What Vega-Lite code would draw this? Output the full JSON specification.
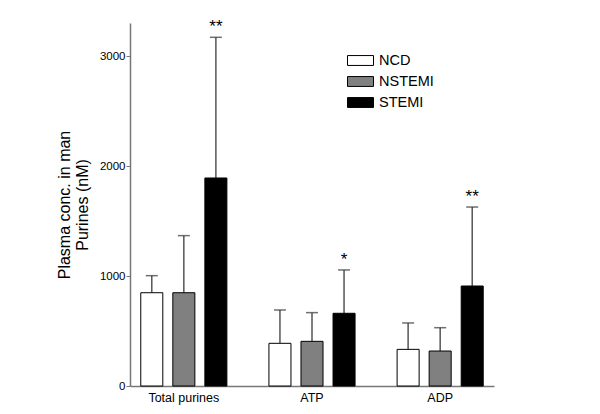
{
  "$schema": "https://vega.github.io/schema/vega-lite/v6.json",
  "autosize": {"type": "none"},
  "padding": {"left": 130, "top": 23, "right": 106, "bottom": 28},
  "width": 364,
  "height": 363,
  "background": "white",
  "config": {"view": {"stroke": null}, "font": "Liberation Sans"},
  "data": {"values": [
    {"group": "Total purines", "cond": "NCD", "mean": 848, "err": 1003, "sig": ""},
    {"group": "Total purines", "cond": "NSTEMI", "mean": 848, "err": 1367, "sig": ""},
    {"group": "Total purines", "cond": "STEMI", "mean": 1891, "err": 3170, "sig": "**"},
    {"group": "ATP", "cond": "NCD", "mean": 388, "err": 691, "sig": ""},
    {"group": "ATP", "cond": "NSTEMI", "mean": 406, "err": 667, "sig": ""},
    {"group": "ATP", "cond": "STEMI", "mean": 661, "err": 1055, "sig": "*"},
    {"group": "ADP", "cond": "NCD", "mean": 333, "err": 573, "sig": ""},
    {"group": "ADP", "cond": "NSTEMI", "mean": 318, "err": 530, "sig": ""},
    {"group": "ADP", "cond": "STEMI", "mean": 909, "err": 1627, "sig": "**"}
  ]},
  "encoding": {
    "x": {"field": "group", "type": "nominal", "sort": ["Total purines", "ATP", "ADP"],
      "scale": {"paddingInner": 0.328, "paddingOuter": 0.084},
      "axis": {"title": null, "labelAngle": 0, "ticks": false, "labelPadding": 5, "labelFontSize": 12.5, "labelColor": "black", "domainColor": "#777777", "domainWidth": 1.5}},
    "xOffset": {"field": "cond", "type": "nominal", "sort": ["NCD", "NSTEMI", "STEMI"],
      "scale": {"paddingInner": 0.3125, "paddingOuter": 0}}
  },
  "layer": [
    {
      "mark": {"type": "rule", "color": "#555555", "strokeWidth": 1.5},
      "encoding": {
        "y": {"field": "mean", "type": "quantitative"},
        "y2": {"field": "err"}
      }
    },
    {
      "mark": {"type": "tick", "color": "#333333", "thickness": 1.5, "size": 12, "orient": "horizontal"},
      "encoding": {
        "y": {"field": "err", "type": "quantitative"}
      }
    },
    {
      "mark": {"type": "bar", "stroke": "black", "strokeWidth": 1},
      "encoding": {
        "y": {"field": "mean", "type": "quantitative",
          "scale": {"domain": [0, 3300], "nice": false},
          "axis": {"values": [0, 1000, 2000, 3000], "format": "d", "grid": false, "title": ["Plasma conc. in man", "Purines (nM)"],
            "titleFontSize": 16, "titleFontWeight": "normal", "titleColor": "black", "titlePadding": 9, "titleLineHeight": 18,
            "labelFontSize": 11.5, "labelColor": "black", "tickColor": "#777777", "tickSize": 4, "labelPadding": 1,
            "domainColor": "#777777", "domainWidth": 1.5}},
        "fill": {"field": "cond", "type": "nominal", "sort": ["NCD", "NSTEMI", "STEMI"],
          "scale": {"domain": ["NCD", "NSTEMI", "STEMI"], "range": ["white", "#808080", "black"]},
          "legend": {"title": null, "orient": "none", "legendX": 217, "legendY": 24,
            "symbolType": "M-1,-0.38H1V0.38H-1Z", "symbolSize": 676, "symbolStrokeColor": "black", "symbolStrokeWidth": 1,
            "labelFontSize": 14.5, "labelColor": "black", "labelOffset": 5, "rowPadding": -4}}
      }
    },
    {
      "mark": {"type": "text", "dy": -10, "fontSize": 17, "color": "black"},
      "encoding": {
        "y": {"field": "err", "type": "quantitative"},
        "text": {"field": "sig"}
      }
    }
  ]
}
